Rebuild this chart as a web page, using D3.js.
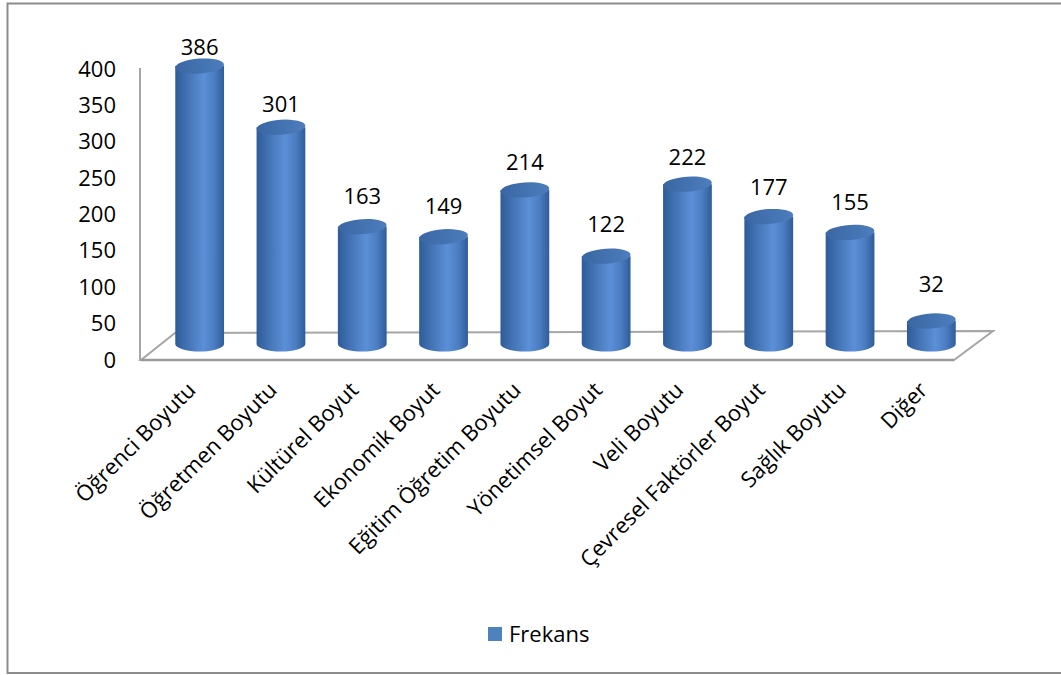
<!DOCTYPE html>
<html>
<head>
<meta charset="utf-8">
<script src="https://cdn.jsdelivr.net/npm/d3@7"></script>
<style>
  html, body { margin: 0; padding: 0; background: #fff; }
  svg { display: block; }
  text { font-family: "Open Sans", "Noto Sans", sans-serif; fill: #000; }
</style>
</head>
<body>
<svg id="chart" width="1061" height="675"></svg>
<script>
const categories = ["Öğrenci Boyutu", "Öğretmen Boyutu", "Kültürel Boyut", "Ekonomik Boyut",
  "Eğitim Öğretim Boyutu", "Yönetimsel Boyut", "Veli Boyutu", "Çevresel Faktörler Boyut",
  "Sağlık Boyutu", "Diğer"];
const values = [386, 301, 163, 149, 214, 122, 222, 177, 155, 32];
const tickValues = [0, 50, 100, 150, 200, 250, 300, 350, 400];
const seriesName = "Frekans";

const svg = d3.select("#chart");
const defs = svg.append("defs");

// Outer border
svg.append("rect").attr("x", 7.5).attr("y", 3.5).attr("width", 1070).attr("height", 669.5)
  .attr("fill", "none").attr("stroke", "#8c8c8c").attr("stroke-width", 2);

// Layout
const floorFrontY = 360, floorLeft = 141, floorRight = 954;
const depthDx = 36, depthDy = -28;
const x = d3.scaleBand().domain(categories).range([floorLeft, floorRight]).padding(0);
const yTick = d3.scaleLinear().domain([0, 400]).range([360, 69]);
const yBar = d3.scaleLinear().domain([0, 400]).range([344, 56]);
const yLabel = d3.scaleLinear().domain([0, 400]).range([306, 37.5]);
const rx = x.bandwidth() * 0.3, ry = 7.5;

// Gradients
const bodyGrad = defs.append("linearGradient").attr("id", "body").attr("x1", "0").attr("x2", "1").attr("y1", "0").attr("y2", "0");
[["0%", "#2e5c99"], ["25%", "#4373b4"], ["58%", "#5b8fd7"], ["80%", "#4b7dc2"], ["100%", "#2f5d9a"]]
  .forEach(([o, c]) => bodyGrad.append("stop").attr("offset", o).attr("stop-color", c));
const topGrad = defs.append("linearGradient").attr("id", "top").attr("x1", "0").attr("x2", "1").attr("y1", "0").attr("y2", "0");
[["0%", "#3a67a3"], ["100%", "#4d7dbd"]]
  .forEach(([o, c]) => topGrad.append("stop").attr("offset", o).attr("stop-color", c));

// Floor
const fl = [[floorLeft, floorFrontY], [floorRight, floorFrontY],
  [floorRight + depthDx + 3, floorFrontY + depthDy - 1], [floorLeft + depthDx - 2, floorFrontY + depthDy + 1]];
svg.append("path").attr("d", "M" + fl.map(p => p.join(",")).join("L") + "Z")
  .attr("fill", "none").attr("stroke", "#a6a6a6").attr("stroke-width", 2);
svg.append("line").attr("x1", floorLeft).attr("x2", floorRight).attr("y1", floorFrontY).attr("y2", floorFrontY)
  .attr("stroke", "#9a9a9a").attr("stroke-width", 2.5);

// Vertical axis line
svg.append("line").attr("x1", 140).attr("x2", 140).attr("y1", yTick(400) - 1).attr("y2", floorFrontY)
  .attr("stroke", "#a6a6a6").attr("stroke-width", 2);

// Y axis tick labels
const yAxis = svg.append("g").attr("transform", "translate(140,0)")
  .call(d3.axisLeft(yTick).tickValues(tickValues).tickSize(0).tickPadding(24));
yAxis.select(".domain").remove();
yAxis.selectAll("text").style("font-size", "22px").attr("fill", "#000")
  .style("font-family", '"Open Sans", sans-serif');

// Cylinders
const cx = d => x(d) + x.bandwidth() / 2 + depthDx / 2;
const bars = svg.append("g").selectAll("g").data(categories.map((c, i) => ({ c, v: values[i] })))
  .join("g");
bars.append("path").attr("fill", "url(#body)")
  .attr("d", d => {
    const X = cx(d.c), t = yBar(d.v), b = yBar(0);
    return `M${X - rx},${t} L${X - rx},${b} A${rx},${ry} 0 0 0 ${X + rx},${b} L${X + rx},${t} Z`;
  });
bars.append("ellipse").attr("fill", "url(#top)")
  .attr("cx", d => cx(d.c)).attr("cy", d => yBar(d.v)).attr("rx", rx).attr("ry", ry)
  .attr("transform", d => `rotate(-4 ${cx(d.c)} ${yBar(d.v)})`);

// Value labels
bars.append("text").attr("x", d => cx(d.c)).attr("y", d => yLabel(d.v)).attr("dy", "0.35em")
  .attr("text-anchor", "middle").style("font-size", "22px").text(d => d.v);

// Category labels
const xAxis = svg.append("g").attr("transform", "translate(10,386)")
  .call(d3.axisBottom(x).tickSize(0));
xAxis.select(".domain").remove();
xAxis.selectAll("text").attr("x", 0).attr("y", 0).attr("dy", "0.35em")
  .attr("transform", "rotate(-45)").style("text-anchor", "end").style("font-size", "22px")
  .attr("fill", "#000").style("font-family", '"Open Sans", sans-serif');

// Legend
const lg = svg.append("g").attr("transform", "translate(488,627)");
lg.append("rect").attr("width", 14).attr("height", 14).attr("fill", "#4f81bd");
lg.append("text").attr("x", 21).attr("y", 7).attr("dy", "0.35em").style("font-size", "22px").text(seriesName);
</script>
</body>
</html>
